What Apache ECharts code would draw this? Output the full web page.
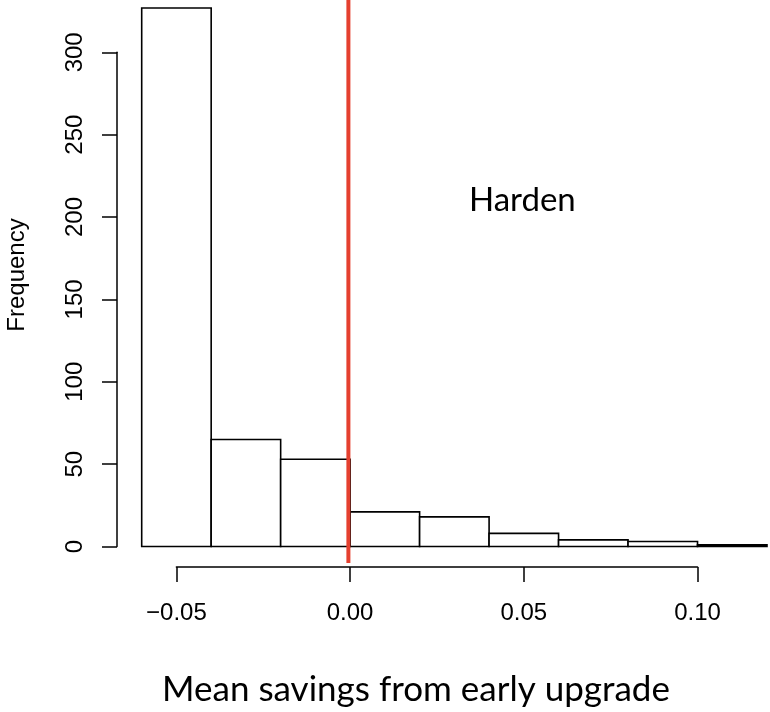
<!DOCTYPE html>
<html>
<head>
    <meta charset="utf-8">
    <title>Harden</title>
    <script src="https://cdn.jsdelivr.net/npm/echarts@6/dist/echarts.min.js"></script>
    <style>
        html, body { margin: 0; padding: 0; background: #fff; }
        #main { width: 770px; height: 712px; }
    </style>
</head>
<body>
<div id="main"></div>
<script>
  // histogram bins (edges) and counts
  var binEdges = [-0.06, -0.04, -0.02, 0.00, 0.02, 0.04, 0.06, 0.08, 0.10, 0.12];
  var counts = [327, 65, 53, 21, 18, 8, 4, 3, 1];
  var xTicks = [-0.05, 0.00, 0.05, 0.10];
  var yTicks = [0, 50, 100, 150, 200, 250, 300];
  var redLineX = -0.0005;
  var redLineY = [-10, 332];

  var bins = counts.map(function (c, i) {
      return [binEdges[i], binEdges[i + 1], c];
  });

  var tickFont = { fontFamily: 'Liberation Sans', fontSize: 24, color: '#000' };
  var axisLineStyle = { color: '#000', width: 1.5 };

  var myChart = echarts.init(document.getElementById('main'));
  myChart.setOption({
      animation: false,
      backgroundColor: '#fff',
      grid: [
          // bars
          { left: 141.7, right: 3, top: 3.1, bottom: 165.5 },
          // x axis (R style, offset below)
          { left: 176.4, width: 521.1, top: 566, height: 1 },
          // y axis (R style, offset left)
          { left: 117, width: 1, top: 52.3, height: 494.2 }
      ],
      xAxis: [
          { gridIndex: 0, type: 'value', min: binEdges[0], max: binEdges[binEdges.length - 1],
            show: false },
          { gridIndex: 1, type: 'value', min: xTicks[0], max: xTicks[xTicks.length - 1],
            interval: 0.05, position: 'bottom',
            axisLine: { show: true, lineStyle: axisLineStyle },
            axisTick: { show: true, length: 15, lineStyle: axisLineStyle },
            splitLine: { show: false },
            axisLabel: Object.assign({
                margin: 34,
                formatter: function (v) { return v.toFixed(2).replace('-', '\u2212'); }
            }, tickFont) },
          { gridIndex: 2, type: 'value', min: 0, max: 1, show: false }
      ],
      yAxis: [
          { gridIndex: 0, type: 'value', min: 0, max: 330, show: false },
          { gridIndex: 1, type: 'value', min: 0, max: 1, show: false },
          { gridIndex: 2, type: 'value', min: yTicks[0], max: yTicks[yTicks.length - 1],
            interval: 50, position: 'left',
            axisLine: { show: true, lineStyle: axisLineStyle },
            axisTick: { show: true, length: 15, lineStyle: axisLineStyle },
            splitLine: { show: false },
            axisLabel: Object.assign({ margin: 30, rotate: 90 }, tickFont) }
      ],
      series: [
          {
              type: 'custom',
              xAxisIndex: 0,
              yAxisIndex: 0,
              data: bins,
              renderItem: function (params, api) {
                  var p0 = api.coord([api.value(0), 0]);
                  var p1 = api.coord([api.value(1), api.value(2)]);
                  return {
                      type: 'rect',
                      shape: { x: p0[0], y: p1[1], width: p1[0] - p0[0], height: p0[1] - p1[1] },
                      style: { fill: '#fff', stroke: '#000', lineWidth: 1.6 }
                  };
              }
          },
          {
              type: 'line',
              xAxisIndex: 0,
              yAxisIndex: 0,
              clip: false,
              symbol: 'none',
              data: [[redLineX, redLineY[0]], [redLineX, redLineY[1]]],
              lineStyle: { color: '#e5402f', width: 4 },
              z: 5
          },
          { type: 'line', xAxisIndex: 1, yAxisIndex: 1, data: [] },
          { type: 'line', xAxisIndex: 2, yAxisIndex: 2, data: [] }
      ],
      graphic: [
          { type: 'text', x: 469, y: 200,
            style: { text: 'Harden', fontFamily: 'Lato', fontSize: 33, fill: '#000',
                     align: 'left', verticalAlign: 'middle' } },
          { type: 'text', x: 416, y: 690,
            style: { text: 'Mean savings from early upgrade', fontFamily: 'Lato', fontSize: 35,
                     fill: '#000', align: 'center', verticalAlign: 'middle' } },
          { type: 'text', x: 17, y: 275, rotation: Math.PI / 2,
            style: { text: 'Frequency', fontFamily: 'Liberation Sans', fontSize: 24, fill: '#000',
                     align: 'center', verticalAlign: 'middle' } }
      ]
  });
</script>
</body>
</html>
